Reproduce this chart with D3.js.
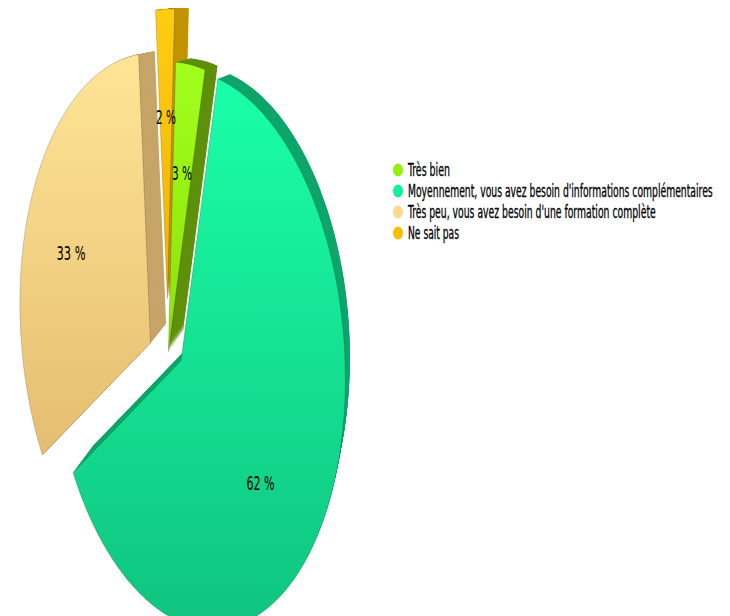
<!DOCTYPE html>
<html>
<head>
<meta charset="utf-8">
<script src="https://cdn.jsdelivr.net/npm/d3@7"></script>
<style>
  html, body { margin: 0; padding: 0; background: #ffffff; }
  svg { display: block; }
</style>
</head>
<body>
<script>
// ---- data ----
const categories = [
  "Très bien",
  "Moyennement, vous avez besoin d'informations complémentaires",
  "Très peu, vous avez besoin d'une formation complète",
  "Ne sait pas"
];
const values = [3, 62, 33, 2];
const valueLabels = ["3 %", "62 %", "33 %", "2 %"];

// ---- styling ----
const faceTop    = ["#a2ff1c", "#1affa8", "#ffe596", "#ffcc12"];
const faceBottom = ["#8ce00c", "#0fc47e", "#e5bd70", "#f0b400"];
const wallColors = ["#5e900c", "#10a56c", "#c6a568", "#c29300"];
const legendColors = ["#96f00c", "#14f09a", "#ffd98c", "#ffbd00"];
const explode = [0, 15.5, 19.9, 53.1];        // pull-out distance, px
const labelWidths = [20, 28, 29, 20];
const legendWidths = [42, 305, 248, 51];
const drawOrder = [2, 3, 0, 1];

const W = 730, H = 616;
const svg = d3.select("body").append("svg").attr("width", W).attr("height", H);
const defs = svg.append("defs");

// disk plane (unit circle) -> screen, seen in perspective
const PROJ = { CX: 168.4, CY: 351.7, A: 145.3, B: 274.9, C1: -0.3, C2: 30.7, K: 0.114, M: -0.051 };
function project(u, v) {
  const p = PROJ, s = 1 / (1 - p.K * u - p.M * v);
  return [p.CX + (p.A * u + p.C1 * v) * s, p.CY + (p.B * v + p.C2 * u) * s];
}
// thickness: faces swept back toward a vanishing point
const VP = [428, -5], DEPTH = 0.056, WALL_STEPS = 24;

const startAngle = 2.56 * Math.PI / 180;
const arcs = d3.pie().sort(null)
  .startAngle(startAngle).endAngle(startAngle + 2 * Math.PI)(values);

const closed = d3.line().curve(d3.curveLinearClosed);

const slices = arcs.map((a, i) => {
  const mid = (a.startAngle + a.endAngle) / 2;
  const ox = explode[i] * Math.sin(mid), oy = -explode[i] * Math.cos(mid);
  const shift = q => [q[0] + ox, q[1] + oy];
  const n = Math.max(6, Math.ceil((a.endAngle - a.startAngle) / (Math.PI / 360)));
  const pts = [shift(project(0, 0))];
  for (let j = 0; j <= n; j++) {
    const t = a.startAngle + (a.endAngle - a.startAngle) * j / n;
    pts.push(shift(project(Math.sin(t), -Math.cos(t))));
  }
  const r = 0.64;
  const label = shift(project(r * Math.sin(mid), -r * Math.cos(mid)));
  return { i, d: closed(pts), label };
});

slices.forEach(s => {
  const g = defs.append("linearGradient").attr("id", "face" + s.i)
    .attr("x1", 0).attr("y1", 0).attr("x2", 0).attr("y2", 1);
  g.append("stop").attr("offset", "0%").attr("stop-color", faceTop[s.i]);
  g.append("stop").attr("offset", "100%").attr("stop-color", faceBottom[s.i]);
});

const walls = svg.append("g");
drawOrder.forEach(i => {
  for (let k = WALL_STEPS; k >= 1; k--) {
    const f = 1 - DEPTH * k / WALL_STEPS;
    walls.append("path")
      .attr("d", slices[i].d)
      .attr("fill", wallColors[i])
      .attr("transform", `translate(${VP[0]},${VP[1]}) scale(${f}) translate(${-VP[0]},${-VP[1]})`);
  }
});

const faces = svg.append("g");
drawOrder.forEach(i => {
  faces.append("path")
    .attr("d", slices[i].d)
    .attr("fill", `url(#face${i})`)
    .attr("stroke", "rgba(0,0,0,0.25)")
    .attr("stroke-width", 0.7);
});

// narrow text: natural glyphs squeezed horizontally to a set width
function squeezed(g, x, y, str, width, anchor) {
  const t = g.append("text").text(str);
  const natural = t.node().getComputedTextLength();
  const k = width / natural;
  const x0 = anchor === "middle" ? x - width / 2 : x;
  t.attr("transform", `translate(${x0},${y}) scale(${k},1)`);
  return t;
}

const fontStack = "'DejaVu Sans Condensed', 'Liberation Sans Narrow', 'DejaVu Sans', sans-serif";

const labelG = svg.append("g")
  .attr("font-family", fontStack)
  .attr("font-size", 20).attr("fill", "#000");
slices.forEach(s => {
  squeezed(labelG, s.label[0], s.label[1] + 7.3, valueLabels[s.i], labelWidths[s.i], "middle");
});

const legend = svg.append("g")
  .attr("font-family", fontStack)
  .attr("font-size", 17).attr("fill", "#000")
  .attr("stroke", "#000").attr("stroke-width", 0.3);
const rowY = d3.scalePoint().domain(d3.range(categories.length)).range([170, 233]);
categories.forEach((c, i) => {
  const y = rowY(i);
  legend.append("ellipse").attr("cx", 398).attr("cy", y).attr("rx", 5).attr("ry", 6.5)
    .attr("fill", legendColors[i]).attr("stroke", "none");
  squeezed(legend, 408, y + 6, c, legendWidths[i], "start");
});
</script>
</body>
</html>
